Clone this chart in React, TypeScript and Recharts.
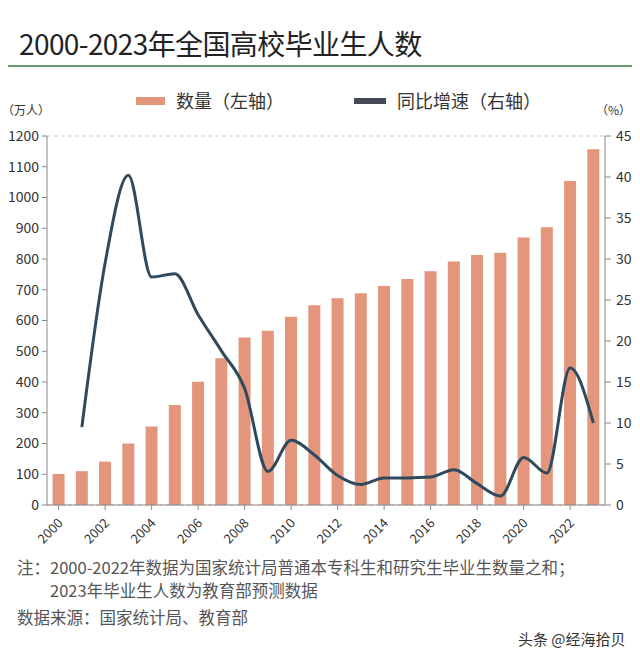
import React from "react";
import { ComposedChart, Bar, Line, XAxis, YAxis, CartesianGrid } from "recharts";

const years = ["2000","2001","2002","2003","2004","2005","2006","2007","2008","2009","2010","2011","2012","2013","2014","2015","2016","2017","2018","2019","2020","2021","2022","2023"];
const graduates = [101,110,141,200,255,325,401,477,545,567,612,650,672,689,712,735,760,792,813,820,870,903,1054,1157];
const growth: (number | null)[] = [null,9.5,29.5,40.2,27.8,28.2,23.2,18.8,14.2,4.1,7.9,6.1,3.6,2.5,3.3,3.3,3.4,4.3,2.6,1.1,5.8,3.9,16.7,10.0];
const leftTicks = [0,100,200,300,400,500,600,700,800,900,1000,1100,1200];
const rightTicks = [0,5,10,15,20,25,30,35,40,45];

const data = years.map((y, i) => ({ year: y, count: graduates[i], rate: growth[i] }));

const BAR = "#E3967B";
const LINE = "#2F4A5E";
const FONT = "'Noto Sans CJK SC', 'Noto Sans', sans-serif";

const XTick = (props: any) => {
  const { x, y, payload } = props;
  return (
    <text x={x + 5} y={y + 12} textAnchor="end" transform={`rotate(-45 ${x + 5} ${y + 12})`} fontSize={13} fill="#333" fontFamily={FONT}>
      {payload.value}
    </text>
  );
};

export default function App() {
  return (
    <div style={{ position: "relative", width: 640, height: 657, margin: -8, background: "#fff", fontFamily: FONT, overflow: "hidden" }}>
      <div style={{ position: "absolute", left: 19, top: 25, fontSize: 28, color: "#222", lineHeight: "36px", letterSpacing: -0.6 }}>
        2000-2023年全国高校毕业生人数
      </div>
      <div style={{ position: "absolute", left: 0, top: 65, width: 640, height: 2, background: "#6E9A72" }} />
      <div style={{ position: "absolute", left: 136, top: 97, width: 29, height: 8, background: BAR }} />
      <div style={{ position: "absolute", left: 176, top: 87, fontSize: 18, color: "#333", lineHeight: "26px" }}>数量（左轴）</div>
      <div style={{ position: "absolute", left: 354, top: 98, width: 32, height: 6, background: "#454A58" }} />
      <div style={{ position: "absolute", left: 397, top: 87, fontSize: 18, color: "#333", lineHeight: "26px" }}>同比增速（右轴）</div>
      <div style={{ position: "absolute", left: 2, top: 101, fontSize: 12, color: "#333", lineHeight: "18px" }}>（万人）</div>
      <div style={{ position: "absolute", left: 596, top: 101, fontSize: 12, color: "#333", lineHeight: "18px" }}>（%）</div>
      <div style={{ position: "absolute", left: 0, top: 0 }}>
        <ComposedChart width={640} height={550} data={data} margin={{ top: 136, right: 0, left: 7, bottom: 0 }} barCategoryGap="24%">
          <CartesianGrid vertical={false} stroke="#C8C8C8" strokeDasharray="4 3" />
          <XAxis dataKey="year" interval={1} tick={<XTick />} tickSize={5} stroke="#888" tickLine={{ stroke: "#888" }} height={45} />
          <YAxis yAxisId="left" orientation="left" domain={[0, 1200]} ticks={leftTicks} width={40} tickSize={5} tickMargin={3}
            stroke="#888" tick={{ fontSize: 14, fill: "#333", fontFamily: FONT }} interval={0} />
          <YAxis yAxisId="right" orientation="right" domain={[0, 45]} ticks={rightTicks} width={35} tickSize={6} tickMargin={5}
            stroke="#888" tick={{ fontSize: 14, fill: "#333", fontFamily: FONT, textAnchor: "start" }} interval={0} />
          <Bar yAxisId="left" dataKey="count" fill={BAR} isAnimationActive={false} />
          <Line yAxisId="right" dataKey="rate" type="monotone" stroke={LINE} strokeWidth={3} dot={false} isAnimationActive={false} connectNulls={false} />
        </ComposedChart>
      </div>
      <div style={{ position: "absolute", left: 17, top: 555, fontSize: 16.5, color: "#555", lineHeight: "24px" }}>
        注：2000-2022年数据为国家统计局普通本专科生和研究生毕业生数量之和；
      </div>
      <div style={{ position: "absolute", left: 50, top: 578, fontSize: 16.5, color: "#555", lineHeight: "24px" }}>
        2023年毕业生人数为教育部预测数据
      </div>
      <div style={{ position: "absolute", left: 17, top: 605, fontSize: 16.5, color: "#555", lineHeight: "24px" }}>
        数据来源：国家统计局、教育部
      </div>
      <div style={{ position: "absolute", left: 518, top: 628, fontSize: 15, color: "#333", lineHeight: "22px" }}>
        头条 @经海拾贝
      </div>
    </div>
  );
}
